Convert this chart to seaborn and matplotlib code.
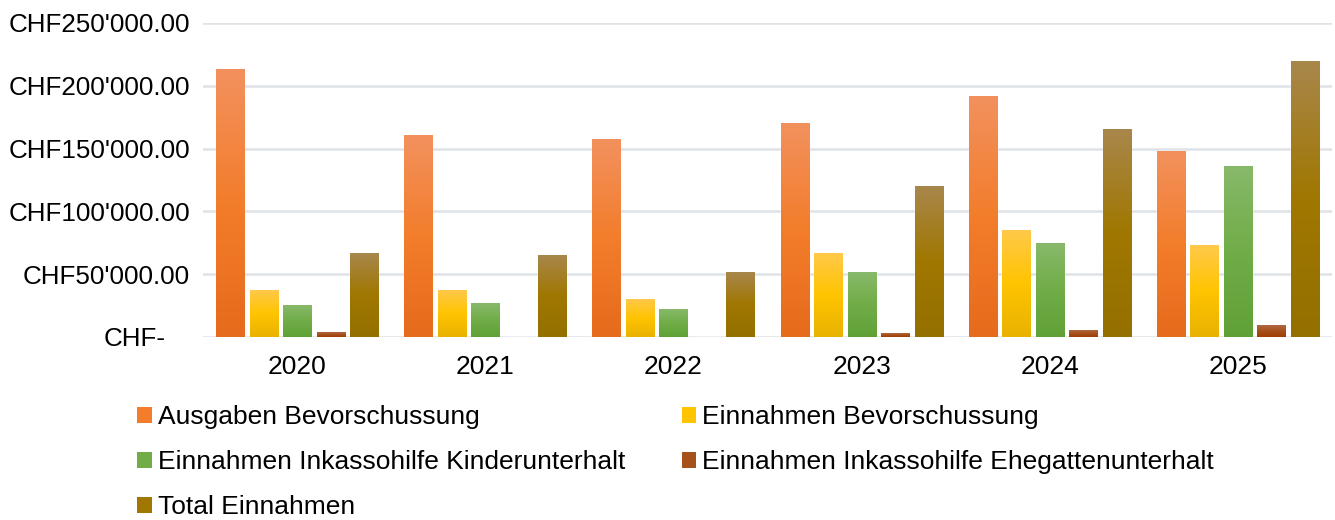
import numpy as np
import pandas as pd
import matplotlib
matplotlib.use("Agg")
import matplotlib.pyplot as plt
import seaborn as sns
from matplotlib.colors import LinearSegmentedColormap
from matplotlib.patches import Patch
import matplotlib.transforms as mtransforms

# ---- data ----
years = ["2020", "2021", "2022", "2023", "2024", "2025"]
series = [
    "Ausgaben Bevorschussung",
    "Einnahmen Bevorschussung",
    "Einnahmen Inkassohilfe Kinderunterhalt",
    "Einnahmen Inkassohilfe Ehegattenunterhalt",
    "Total Einnahmen",
]
ausgaben_bev = [212600, 160800, 157600, 169600, 191100, 147300]
einnahmen_bev = [37400, 37400, 29500, 66100, 84400, 73200]
einnahmen_kinder = [24700, 26300, 21500, 51000, 74800, 135400]
einnahmen_ehegatten = [3200, 0, 0, 2400, 4800, 8800]
total_einnahmen = [66100, 64500, 51000, 120200, 165600, 219000]
yticks = [0, 50000, 100000, 150000, 200000, 250000]
ytick_labels = ["CHF-", "CHF50'000.00", "CHF100'000.00", "CHF150'000.00",
                "CHF200'000.00", "CHF250'000.00"]

# gradient colours per series: top, middle, bottom
grad_colors = [
    ["#F2915E", "#F37D2B", "#E66B1C"],
    ["#FFC94A", "#FFC400", "#E8B200"],
    ["#88B96B", "#70AD47", "#60A137"],
    ["#B06844", "#A6501A", "#A03E08"],
    ["#A8874C", "#A07700", "#947000"],
]
mid_colors = [g[1] for g in grad_colors]

values = [ausgaben_bev, einnahmen_bev, einnahmen_kinder, einnahmen_ehegatten, total_einnahmen]
rows = []
for s, vals in zip(series, values):
    for y, v in zip(years, vals):
        rows.append({"Jahr": y, "Serie": s, "Wert": v})
df = pd.DataFrame(rows)

sns.set_theme(style="white")
plt.rcParams["font.family"] = ["Liberation Sans", "DejaVu Sans"]
plt.rcParams["text.color"] = "black"

W, H = 1335, 520
FS = 19
fig = plt.figure(figsize=(W / 100, H / 100), dpi=100)
ax = fig.add_axes([203 / W, 1 - 337 / H, (1332 - 203) / W, 314 / H])

sns.barplot(data=df, x="Jahr", y="Wert", hue="Serie", hue_order=series,
            order=years, palette=mid_colors, width=0.89, gap=0.16,
            saturation=1, errorbar=None, legend=False, ax=ax)

# gradient fill for each bar
grad = np.linspace(0, 1, 256).reshape(-1, 1)
for cont, cols in zip(ax.containers, grad_colors):
    cmap = LinearSegmentedColormap.from_list("g", cols)
    for bar in cont:
        x, y0 = bar.get_x(), bar.get_y()
        w, h = bar.get_width(), bar.get_height()
        if h <= 0:
            continue
        ax.imshow(grad, extent=[x, x + w, y0, y0 + h], aspect="auto",
                  cmap=cmap, origin="upper", zorder=bar.get_zorder() + 0.1,
                  interpolation="bilinear")

ax.set_xlim(-0.5, 5.5)
ax.set_ylim(0, 250000)
ax.set_aspect("auto")
ax.set_yticks(yticks)
ax.set_yticklabels(ytick_labels)
ax.set_xlabel("")
ax.set_ylabel("")
for sp in ax.spines.values():
    sp.set_visible(False)
ax.yaxis.grid(True, color="#DFE2E7", linewidth=1.8)
ax.set_axisbelow(True)
ax.tick_params(axis="y", length=0, pad=9.5, labelsize=18.7, labelcolor="black")
ax.tick_params(axis="x", length=0, pad=13, labelsize=FS, labelcolor="black")

lab0 = ax.get_yticklabels()[0]
lab0.set_transform(lab0.get_transform() +
                   mtransforms.ScaledTranslation(-24 / 100, 0, fig.dpi_scale_trans))

handles = [Patch(facecolor=c, edgecolor="none") for c in mid_colors]
order = [0, 2, 4, 1, 3]
fig.legend([handles[i] for i in order], [series[i] for i in order],
           loc="upper left", bbox_to_anchor=(137 / W, 1 - 405 / H),
           ncol=2, frameon=False, fontsize=FS, labelcolor="black",
           handlelength=0.55, handleheight=0.55, handletextpad=0.23,
           columnspacing=2.15, labelspacing=0.8, borderpad=0, borderaxespad=0)

fig.savefig("out.png", dpi=100)
